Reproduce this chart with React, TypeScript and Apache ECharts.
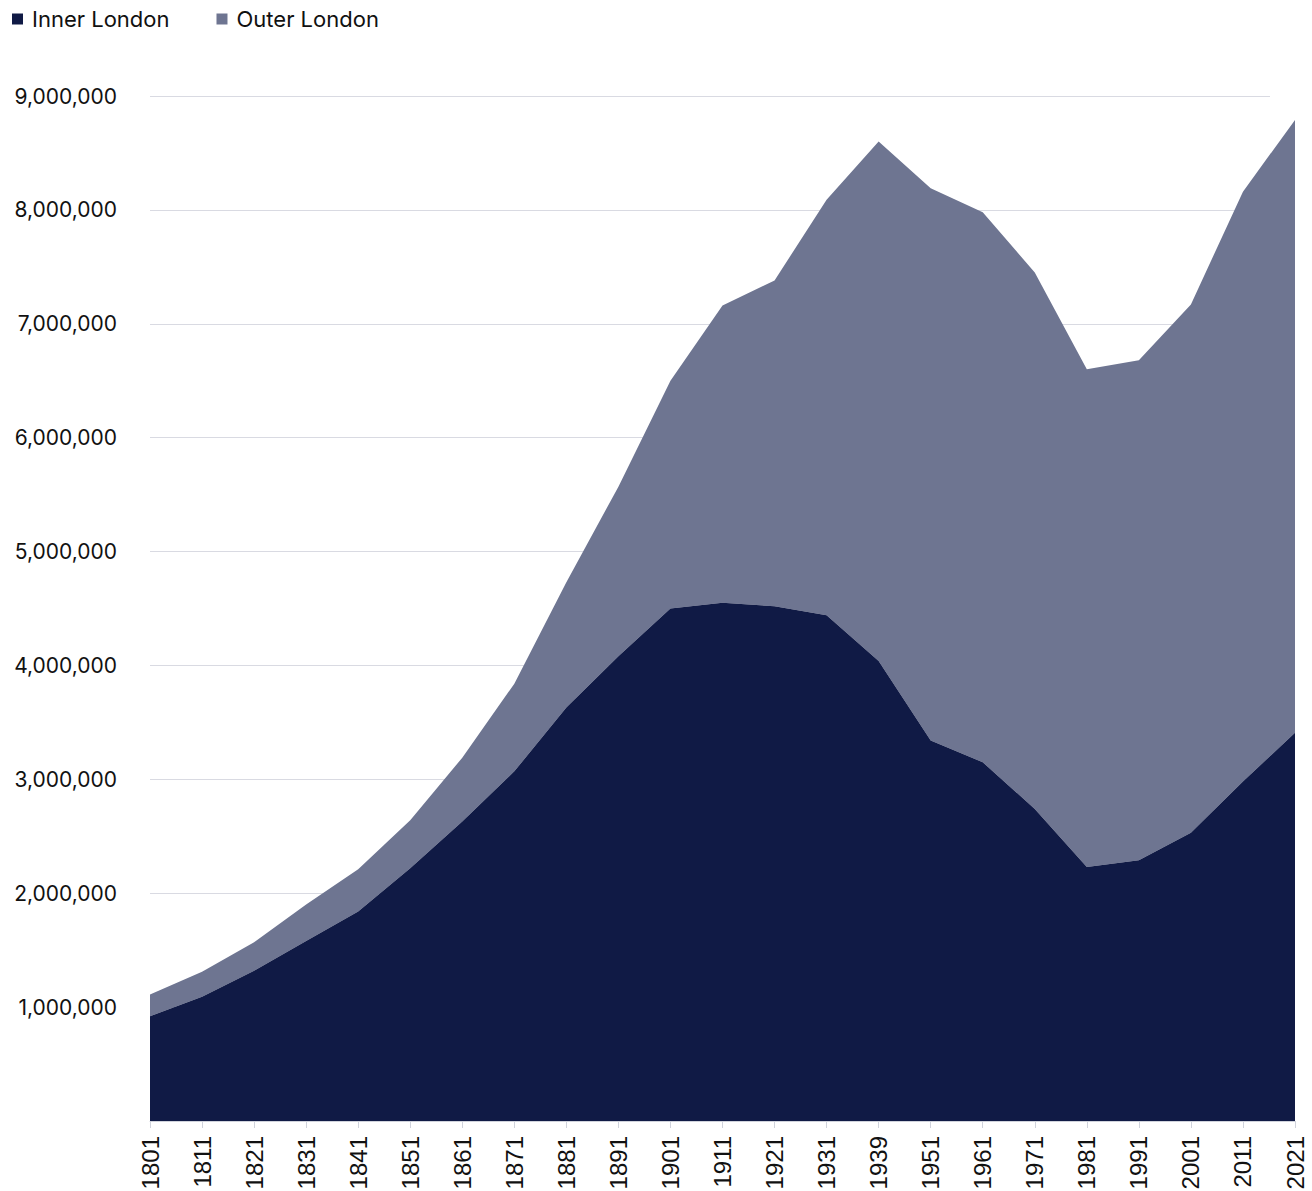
import React, { useEffect, useRef } from "react";
import * as echarts from "echarts";

const years = ["1801","1811","1821","1831","1841","1851","1861","1871","1881","1891","1901","1911","1921","1931","1939","1951","1961","1971","1981","1991","2001","2011","2021"];
const innerLondon = [920000,1090000,1320000,1580000,1840000,2220000,2630000,3070000,3630000,4080000,4500000,4550000,4520000,4440000,4040000,3340000,3150000,2740000,2230000,2290000,2530000,2980000,3410000];
const totalLondon = [1110000,1310000,1570000,1900000,2210000,2640000,3190000,3840000,4730000,5570000,6500000,7160000,7380000,8090000,8600000,8190000,7980000,7450000,6600000,6680000,7170000,8160000,8790000];
const outerLondon = totalLondon.map((t, i) => t - innerLondon[i]);
const seriesNames = ["Inner London", "Outer London"];

export default function App() {
  const ref = useRef<HTMLDivElement>(null);
  useEffect(() => {
    document.body.style.margin = "0";
    const chart = echarts.init(ref.current!, null, { renderer: "svg" });
    const font = "Inter";
    chart.setOption({
      animation: false,
      backgroundColor: "#ffffff",
      color: ["#101a45", "#6e7591"],
      legend: {
        left: 7,
        top: 3,
        icon: "rect",
        itemWidth: 11,
        itemHeight: 11,
        itemGap: 47,
        textStyle: { fontFamily: font, fontSize: 22, color: "#111111", padding: [0, 0, 0, 4] },
        data: seriesNames,
      },
      grid: [
        { left: 150, right: 17, top: 96, bottom: 70, outerBoundsMode: "none", containLabel: false },
        { left: 150, right: 42, top: 96, bottom: 70, outerBoundsMode: "none", containLabel: false },
      ],
      xAxis: [
        {
          type: "category",
          gridIndex: 0,
          data: years,
          boundaryGap: false,
          axisLine: { show: true, lineStyle: { color: "#d0d3dc", width: 1 } },
          axisTick: { show: true, length: 7, lineStyle: { color: "#d0d3dc" }, alignWithLabel: true },
          axisLabel: {
            rotate: 90,
            margin: 15,
            interval: 0,
            fontFamily: "Liberation Sans",
            fontSize: 24,
            color: "#111111",
          },
          z: 5,
        },
        {
          type: "category",
          gridIndex: 1,
          data: years,
          boundaryGap: false,
          show: false,
        },
      ],
      yAxis: [
        {
          type: "value",
          gridIndex: 0,
          min: 0,
          max: 9000000,
          interval: 1000000,
          splitLine: { show: false },
          axisLine: { show: false },
          axisTick: { show: false },
          axisLabel: {
            margin: 33,
            fontFamily: font,
            fontSize: 21,
            color: "#111111",
            formatter: (v: number) => (v === 0 ? "" : v.toLocaleString("en-US")),
          },
        },
        {
          type: "value",
          gridIndex: 1,
          min: 0,
          max: 9000000,
          interval: 1000000,
          axisLine: { show: false },
          axisTick: { show: false },
          axisLabel: { show: false },
          splitLine: { show: true, lineStyle: { color: "#d9dae2", width: 1 } },
          z: 0,
        },
      ],
      series: [
        {
          name: seriesNames[0],
          type: "line",
          stack: "total",
          xAxisIndex: 0,
          yAxisIndex: 0,
          data: innerLondon,
          symbol: "none",
          lineStyle: { width: 0 },
          areaStyle: { opacity: 1, color: "#101a45" },
          z: 3,
        },
        {
          name: seriesNames[1],
          type: "line",
          stack: "total",
          xAxisIndex: 0,
          yAxisIndex: 0,
          data: outerLondon,
          symbol: "none",
          lineStyle: { width: 0 },
          areaStyle: { opacity: 1, color: "#6e7591" },
          z: 2,
        },
      ],
    });
    return () => chart.dispose();
  }, []);
  return <div ref={ref} style={{ width: 1312, height: 1191 }} />;
}
